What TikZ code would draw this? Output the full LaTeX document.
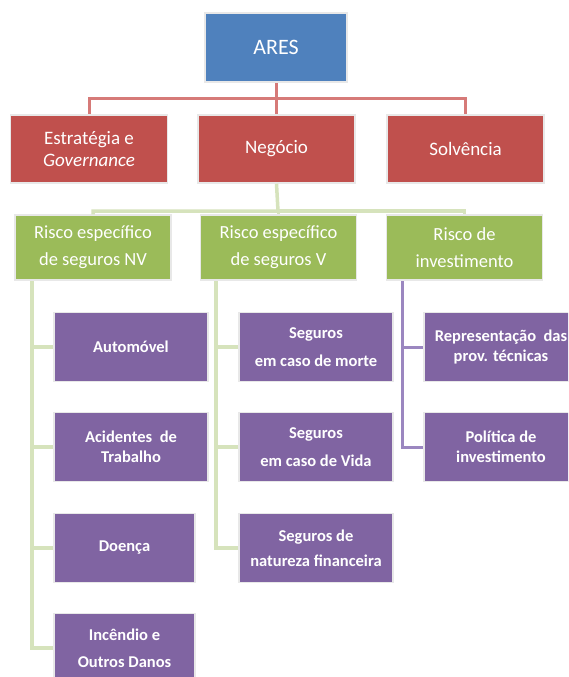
\documentclass[tikz,border=0pt]{standalone}
\usepackage{fontspec}
\setmainfont{Carlito}
\usepackage{tikz}
\usetikzlibrary{calc,positioning}

\definecolor{aresblue}{RGB}{79,129,189}
\definecolor{riskred}{RGB}{192,80,77}
\definecolor{riskgreen}{RGB}{155,187,89}
\definecolor{riskpurple}{RGB}{128,100,162}
\definecolor{redline}{RGB}{214,122,120}
\definecolor{greenline}{RGB}{214,227,188}
\definecolor{purpleline}{RGB}{155,135,192}

\begin{document}
\begin{tikzpicture}[x=1pt,y=-1pt,
    box/.style={rectangle,draw=black!9,line width=1.5pt,text=white,align=center,inner sep=0pt},
    topbox/.style={box,fill=aresblue,minimum width=142pt,minimum height=69pt,font=\fontsize{22}{26}\selectfont},
    redbox/.style={box,fill=riskred,minimum width=157pt,minimum height=68pt,font=\fontsize{19}{22}\selectfont},
    greenbox/.style={box,fill=riskgreen,minimum width=156pt,minimum height=65pt,font=\fontsize{18.5}{27}\selectfont},
    purplebox/.style={box,fill=riskpurple,minimum width=154pt,minimum height=69pt,font=\fontsize{16.5}{20}\selectfont\bfseries},
    redlink/.style={draw=redline,line width=3pt},
    greenlink/.style={draw=greenline,line width=3.5pt},
    purplelink/.style={draw=purpleline,line width=3pt}]
\clip (0,0) rectangle (568,677);
\fill[white] (0,0) rectangle (568,677);

\node[topbox] (ares) at (276,47.5) {ARES};

\node[redbox] (estrategia) at (89,149) {Estratégia e\\\textit{Governance}};
\node[redbox] (negocio) at (276.5,149) {Negócio};
\node[redbox] (solvencia) at (465.5,149) {Solvência};

\coordinate (redbus) at (276,98);
\draw[redlink] (ares.south) -- (redbus) -| (estrategia.north);
\draw[redlink] (redbus) -| (negocio.north);
\draw[redlink] (redbus) -| (solvencia.north);

\node[greenbox] (segnv) at (93,247.5) {Risco específico\\de seguros NV};
\node[greenbox] (segv) at (278.5,247.5) {Risco específico\\de seguros V};
\node[greenbox] (invest) at (464.5,247.5) {Risco de\\investimento};

\coordinate (greenbus) at (278,211);
\draw[greenlink] (negocio.south) -- (greenbus) -| (segnv.north);
\draw[greenlink] (greenbus) -| (segv.north);
\draw[greenlink] (greenbus) -| (invest.north);

% ramos
\coordinate (nvtrunk) at (32,281);
\coordinate (vtrunk) at (216,281);
\coordinate (invtrunk) at (402,281);

\node[purplebox] (automovel) at (131,347) {Automóvel};
\node[purplebox] (acidentes) at (131,447) {Acidentes~~de\\Trabalho};
\node[purplebox,minimum width=141pt] (doenca) at (124.5,548) {Doença};
\node[purplebox,minimum width=141pt] (incendio) at (124.5,648) {Incêndio e\\[7pt]Outros Danos};

\node[purplebox] (morte) at (316,347) {Seguros\\[8pt]em caso de morte};
\node[purplebox] (vida) at (316,447) {Seguros\\[8pt]em caso de Vida};
\node[purplebox] (financeira) at (316,548) {Seguros de\\[5pt]natureza financeira};

\node[purplebox] (provisoes) at (501,347) {Representação~~das\\prov. técnicas};
\node[purplebox] (politica) at (501,447) {Política de\\investimento};

\draw[greenlink] (nvtrunk) |- (automovel.west);
\draw[greenlink] (nvtrunk) |- (acidentes.west);
\draw[greenlink] (nvtrunk) |- (doenca.west);
\draw[greenlink] (nvtrunk) |- (incendio.west);

\draw[greenlink] (vtrunk) |- (morte.west);
\draw[greenlink] (vtrunk) |- (vida.west);
\draw[greenlink] (vtrunk) |- (financeira.west);

\draw[purplelink] (invtrunk) |- (provisoes.west);
\draw[purplelink] (invtrunk) |- (politica.west);
\end{tikzpicture}
\end{document}
